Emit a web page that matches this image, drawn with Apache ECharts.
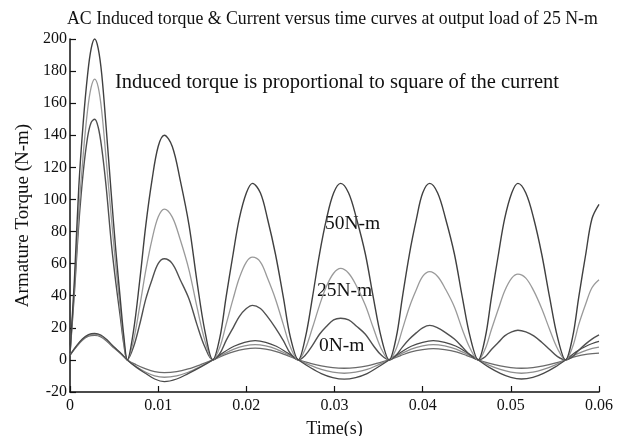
<!DOCTYPE html>
<html>
<head>
<meta charset="utf-8">
<script src="https://cdn.jsdelivr.net/npm/echarts@6/dist/echarts.min.js"></script>
<style>html,body{margin:0;padding:0;background:#fff;}#c{width:621px;height:436px;}</style>
</head>
<body>
<div id="c"></div>
<script>
// ---- Data ----
const torqueTime = [0, 0.0005, 0.001, 0.0015, 0.002, 0.0024, 0.0028, 0.0032, 0.0036, 0.0041, 0.0047, 0.0052, 0.0057, 0.0061, 0.0065,
  0.0072, 0.0079, 0.0086, 0.0093, 0.0100, 0.0107, 0.0116, 0.0125, 0.0135, 0.0144, 0.0153, 0.0162,
  0.0170, 0.0177, 0.0185, 0.0192, 0.0200, 0.0207, 0.0216, 0.0224, 0.0233, 0.0242, 0.0250, 0.0259,
  0.0267, 0.0275, 0.0283, 0.0291, 0.0299, 0.0307, 0.0316, 0.0325, 0.0335, 0.0344, 0.0353, 0.0362,
  0.0370, 0.0377, 0.0385, 0.0393, 0.0400, 0.0408, 0.0417, 0.0426, 0.0436, 0.0445, 0.0454, 0.0463,
  0.0471, 0.0478, 0.0486, 0.0493, 0.0501, 0.0508, 0.0517, 0.0526, 0.0535, 0.0544, 0.0553, 0.0562,
  0.0570, 0.0577, 0.0585, 0.0592, 0.0600];

const torque50 = [4, 50, 108, 148, 178, 194, 200, 194, 178, 145, 102, 68, 38, 15, 0,
  18, 49, 84, 112, 133, 140, 133, 112, 84, 49, 18, 0,
  14, 39, 66, 88, 104, 110, 104, 88, 66, 39, 14, 0,
  14, 39, 66, 88, 104, 110, 104, 88, 66, 39, 14, 0,
  14, 39, 66, 88, 104, 110, 104, 88, 66, 39, 14, 0,
  14, 39, 66, 88, 104, 110, 104, 88, 66, 39, 14, 0,
  14, 39, 66, 88, 97];

const torque25 = [4, 45, 92, 128, 156, 170, 175, 170, 155, 125, 88, 58, 32, 12, 0,
  12, 33, 56, 75, 89, 94, 89, 75, 56, 33, 12, 0,
  8, 22, 38, 51, 61, 64, 61, 51, 38, 22, 8, 0,
  7, 20, 34, 46, 54, 57, 54, 46, 34, 20, 7, 0,
  7, 19, 33, 44, 52, 55, 52, 44, 33, 19, 7, 0,
  7, 19, 32, 43, 51, 53.5, 51, 43, 32, 19, 7, 0,
  8, 22, 35, 45, 50];

const torque0 = [4, 42, 85, 117, 139, 148, 150, 145, 132, 108, 72, 48, 27, 10, 0,
  8, 22, 38, 50, 60, 63, 60, 50, 38, 22, 8, 0,
  4, 12, 20, 27, 32, 34, 32, 27, 20, 12, 4, 0,
  3, 9, 16, 21, 25, 26, 25, 21, 16, 9, 3, 0,
  3, 8, 13, 17, 20, 21.5, 20, 17, 13, 8, 3, 0,
  2, 6.5, 11, 15, 17.5, 18.5, 17.5, 15, 11, 6.5, 2, 0,
  2, 6, 10, 13, 15.6];

const currentTime = [0, 0.0007, 0.0014, 0.0021, 0.0028, 0.0035, 0.0042, 0.0050, 0.0058, 0.0065,
  0.0075, 0.0086, 0.0096, 0.0107, 0.0121, 0.0134, 0.0148, 0.0162,
  0.0174, 0.0186, 0.0198, 0.0210, 0.0222, 0.0234, 0.0246, 0.0259,
  0.0272, 0.0285, 0.0298, 0.0311, 0.0324, 0.0337, 0.0349, 0.0362,
  0.0375, 0.0387, 0.0400, 0.0412, 0.0425, 0.0438, 0.0450, 0.0463,
  0.0475, 0.0488, 0.0500, 0.0512, 0.0525, 0.0537, 0.0550, 0.0562,
  0.0574, 0.0587, 0.0600];

const current50 = [3, 8.5, 13, 15.8, 16.5, 15.5, 12.5, 8, 4, 0,
  -4.5, -8.5, -11.9, -13.5, -11.9, -8.5, -4.5, 0,
  4.6, 8.5, 11, 12, 11, 8.5, 4.6, 0,
  -4.6, -8.5, -11, -12, -11, -8.5, -4.6, 0,
  4.6, 8.5, 11, 12, 11, 8.5, 4.6, 0,
  -4.5, -8.4, -10.9, -11.9, -10.9, -8.4, -4.5, 0,
  5, 9, 11.5];

const current25 = [3, 8.3, 12.7, 15.4, 16, 15, 12, 7.7, 3.8, 0,
  -4.1, -7.7, -9.9, -10.8, -9.9, -7.7, -4.1, 0,
  3.6, 6.7, 8.7, 9.5, 8.7, 6.7, 3.6, 0,
  -3.2, -5.9, -7.6, -8.3, -7.6, -5.9, -3.2, 0,
  3.6, 6.7, 8.7, 9.5, 8.7, 6.7, 3.6, 0,
  -3.2, -5.9, -7.6, -8.3, -7.6, -5.9, -3.2, 0,
  3.5, 6.3, 7.9];

const current0 = [3, 8, 12.3, 14.8, 15.3, 14.4, 11.5, 7.4, 3.6, 0,
  -3, -5.6, -7.3, -7.9, -7.3, -5.6, -3, 0,
  2.8, 5.2, 6.7, 7.3, 6.7, 5.2, 2.8, 0,
  -2, -3.7, -4.8, -5.2, -4.8, -3.7, -2, 0,
  2.7, 5, 6.4, 7, 6.4, 5, 2.7, 0,
  -2, -3.7, -4.8, -5.2, -4.8, -3.7, -2, 0,
  2.2, 3.6, 4.2];

const xTickLabels = ['0', '0.01', '0.02', '0.03', '0.04', '0.05', '0.06'];
const yTickLabels = ['-20', '0', '20', '40', '60', '80', '100', '120', '140', '160', '180', '200'];

const titleText = 'AC Induced torque & Current versus time curves at output load of 25 N-m';
const noteText = 'Induced torque is proportional to square of the current';
const loadLabels = ['50N-m', '25N-m', '0N-m'];

// ---- Chart ----
const pair = (ts, vs) => ts.map((t, i) => [t, vs[i]]);
const FONT = '"Liberation Serif", "DejaVu Serif", serif';

const chart = echarts.init(document.getElementById('c'), null, { renderer: 'canvas' });

function line(name, ts, vs, color, w) {
  return {
    name, type: 'line', data: pair(ts, vs), showSymbol: false, smooth: 0.35,
    lineStyle: { color, width: w }, silent: true, animation: false, clip: false
  };
}

chart.setOption({
  animation: false,
  backgroundColor: '#ffffff',
  title: {
    text: titleText, left: 62, top: 5,
    textStyle: { fontFamily: FONT, fontSize: 17.8, fontWeight: 'normal', color: '#111' }
  },
  grid: { left: 70, right: 22, top: 39, bottom: 44, containLabel: false, outerBoundsMode: 'none' },
  xAxis: {
    type: 'value', min: 0, max: 0.06, interval: 0.01,
    name: 'Time(s)', nameLocation: 'middle', nameGap: 28,
    nameTextStyle: { fontFamily: FONT, fontSize: 18, color: '#111' },
    axisLine: { show: true, onZero: false, lineStyle: { color: '#111', width: 1.5 } },
    axisTick: { show: true, inside: true, length: 6, lineStyle: { color: '#111', width: 1.2 } },
    axisLabel: {
      fontFamily: FONT, fontSize: 16, color: '#111', margin: 6,
      formatter: v => xTickLabels[Math.round(v / 0.01)]
    },
    splitLine: { show: false }
  },
  yAxis: {
    type: 'value', min: -20, max: 200, interval: 20,
    name: 'Armature Torque (N-m)', nameLocation: 'middle', nameGap: 37,
    nameTextStyle: { fontFamily: FONT, fontSize: 19, color: '#111' },
    axisLine: { show: true, onZero: false, lineStyle: { color: '#111', width: 1.5 } },
    axisTick: { show: true, inside: true, length: 6, lineStyle: { color: '#111', width: 1.2 } },
    axisLabel: {
      fontFamily: FONT, fontSize: 16, color: '#111', margin: 3,
      formatter: v => yTickLabels[Math.round((v + 20) / 20)]
    },
    splitLine: { show: false }
  },
  graphic: [
    { type: 'text', left: 115, top: 72, silent: true,
      style: { text: noteText, font: '20.5px ' + FONT, fill: '#111' } },
    { type: 'text', left: 325, top: 214, silent: true,
      style: { text: loadLabels[0], font: '19.5px ' + FONT, fill: '#111' } },
    { type: 'text', left: 317, top: 281, silent: true,
      style: { text: loadLabels[1], font: '19.5px ' + FONT, fill: '#111' } },
    { type: 'text', left: 319, top: 336, silent: true,
      style: { text: loadLabels[2], font: '19.5px ' + FONT, fill: '#111' } }
  ],
  series: [
    line('I0', currentTime, current0, '#6a6a6a', 1.3),
    line('I25', currentTime, current25, '#8e8e8e', 1.3),
    line('I50', currentTime, current50, '#4a4a4a', 1.3),
    line('T0', torqueTime, torque0, '#505050', 1.4),
    line('T25', torqueTime, torque25, '#9a9a9a', 1.3),
    line('T50', torqueTime, torque50, '#404040', 1.4)
  ]
});
</script>
</body>
</html>
